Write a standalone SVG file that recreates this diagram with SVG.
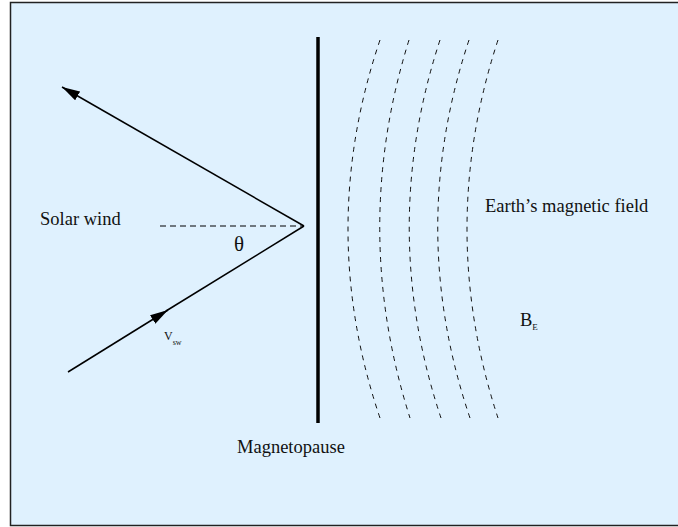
<svg xmlns="http://www.w3.org/2000/svg" width="678" height="527" viewBox="0 0 678 527">
<defs>
<style>
text{font-family:"Liberation Serif","DejaVu Serif",serif;fill:#111}
.t{font-size:18.5px}
.arc{fill:none;stroke:#111;stroke-width:1;stroke-dasharray:5 5}
.ln{stroke:#000;stroke-width:1.5;fill:none}
</style>
<marker id="ah" viewBox="0 0 18 10" refX="18" refY="5" markerWidth="18" markerHeight="10" markerUnits="userSpaceOnUse" orient="auto">
<path d="M0,0 L18,5 L0,10 Z" fill="#000"/>
</marker>
</defs>
<rect x="10.5" y="2.5" width="680" height="523" fill="#dff1fe" stroke="#222" stroke-width="1.5"/>
<g id="connectors">
<line class="ln" x1="304" y1="226" x2="62" y2="87" marker-end="url(#ah)"/>
<line class="ln" x1="68" y1="372" x2="168" y2="310" marker-end="url(#ah)"/>
<line class="ln" x1="166" y1="311" x2="304" y2="226"/>
<line x1="160" y1="226" x2="304" y2="226" stroke="#000" stroke-width="1.2" stroke-dasharray="6 4"/>
</g>
<g id="magnetopause">
<line x1="318" y1="37" x2="318" y2="423" stroke="#000" stroke-width="3.5"/>
<text class="t" x="237" y="453">Magnetopause</text>
</g>
<g id="field">
<path class="arc" d="M380,40 Q316,229 380,418"/>
<path class="arc" d="M409,40 Q350,229 410,418"/>
<path class="arc" d="M440,40 Q378,229 441,418"/>
<path class="arc" d="M469,40 Q406,229 470,418"/>
<path class="arc" d="M498,40 Q436,229 498,418"/>
</g>
<g id="labels">
<text class="t" x="40" y="225">Solar wind</text>
<text x="234" y="251" font-size="21">θ</text>
<text x="164" y="340" font-size="12">V<tspan dy="5" font-size="8">sw</tspan></text>
<text class="t" x="485" y="212">Earth’s magnetic field</text>
<text class="t" x="520" y="326">B<tspan dy="4" font-size="9">E</tspan></text>
</g>
</svg>
